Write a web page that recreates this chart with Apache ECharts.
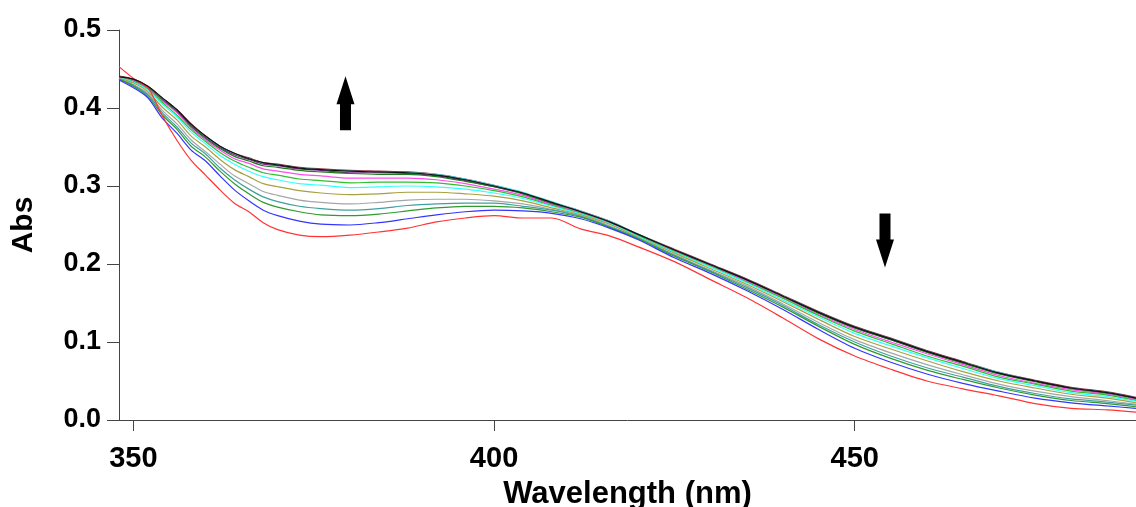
<!DOCTYPE html>
<html>
<head>
<meta charset="utf-8">
<script src="https://cdn.jsdelivr.net/npm/echarts@6/dist/echarts.min.js"></script>
<style>
  html, body { margin: 0; padding: 0; background: #fff; }
  #chart { width: 1136px; height: 507px; }
</style>
</head>
<body>
<div id="chart"></div>
<script>
// Sampled wavelengths (nm)
const wavelengths = [348,350,352,354,356,358,360,362,364,366,368,370,373,376,380,384,388,392,396,400,404,408,412,416,420,425,430,435,440,445,450,455,460,465,470,475,480,485,489];

// Absorbance spectra, one per titration step
const absRed = [0.453,0.438,0.426,0.390,0.359,0.333,0.314,0.295,0.278,0.267,0.253,0.244,0.237,0.235,0.237,0.241,0.246,0.254,0.259,0.262,0.259,0.259,0.245,0.236,0.222,0.203,0.180,0.157,0.131,0.104,0.082,0.065,0.050,0.040,0.031,0.021,0.015,0.013,0.010];
const absBlue = [0.436,0.426,0.413,0.387,0.368,0.346,0.332,0.313,0.295,0.281,0.269,0.262,0.255,0.251,0.250,0.253,0.258,0.263,0.267,0.269,0.268,0.265,0.258,0.246,0.231,0.208,0.188,0.166,0.142,0.116,0.092,0.074,0.059,0.047,0.037,0.028,0.022,0.018,0.015];
const absGreen = [0.437,0.428,0.415,0.391,0.373,0.351,0.337,0.319,0.303,0.290,0.279,0.273,0.267,0.263,0.262,0.264,0.268,0.272,0.274,0.274,0.272,0.267,0.260,0.247,0.232,0.210,0.190,0.168,0.145,0.120,0.097,0.079,0.064,0.052,0.041,0.032,0.025,0.021,0.017];
const absTeal = [0.437,0.429,0.417,0.394,0.376,0.355,0.341,0.323,0.308,0.296,0.286,0.280,0.274,0.271,0.269,0.271,0.275,0.277,0.278,0.278,0.274,0.269,0.261,0.248,0.233,0.211,0.191,0.170,0.147,0.122,0.100,0.082,0.067,0.055,0.043,0.034,0.027,0.023,0.019];
const absGray = [0.438,0.430,0.419,0.397,0.380,0.359,0.344,0.328,0.313,0.303,0.293,0.288,0.282,0.279,0.277,0.279,0.282,0.283,0.283,0.281,0.277,0.270,0.262,0.249,0.233,0.212,0.192,0.172,0.149,0.125,0.103,0.086,0.071,0.058,0.046,0.037,0.030,0.025,0.020];
const absOlive = [0.438,0.432,0.421,0.401,0.385,0.364,0.350,0.334,0.321,0.312,0.303,0.299,0.294,0.291,0.289,0.290,0.292,0.292,0.290,0.287,0.281,0.272,0.263,0.251,0.234,0.214,0.194,0.174,0.152,0.129,0.107,0.091,0.076,0.062,0.050,0.041,0.033,0.028,0.022];
const absCyan = [0.439,0.433,0.423,0.405,0.389,0.369,0.354,0.339,0.328,0.319,0.312,0.308,0.303,0.301,0.298,0.299,0.300,0.299,0.296,0.291,0.284,0.274,0.264,0.252,0.235,0.215,0.196,0.176,0.154,0.132,0.111,0.095,0.080,0.066,0.053,0.044,0.035,0.030,0.024];
const absLime = [0.439,0.434,0.424,0.407,0.391,0.372,0.357,0.343,0.332,0.324,0.317,0.314,0.309,0.307,0.304,0.305,0.305,0.304,0.300,0.294,0.286,0.275,0.265,0.252,0.236,0.216,0.197,0.177,0.156,0.134,0.114,0.098,0.082,0.069,0.055,0.046,0.037,0.032,0.025];
const absMagenta = [0.440,0.435,0.425,0.409,0.394,0.374,0.359,0.346,0.335,0.329,0.322,0.319,0.315,0.313,0.310,0.310,0.310,0.308,0.303,0.296,0.288,0.276,0.266,0.253,0.236,0.217,0.198,0.178,0.157,0.135,0.116,0.100,0.085,0.071,0.057,0.047,0.039,0.033,0.026];
const absDarkGreen = [0.439,0.435,0.425,0.410,0.395,0.376,0.361,0.348,0.338,0.332,0.326,0.324,0.320,0.318,0.316,0.315,0.315,0.312,0.306,0.299,0.290,0.277,0.266,0.253,0.236,0.217,0.198,0.179,0.158,0.137,0.118,0.103,0.087,0.073,0.059,0.049,0.040,0.034,0.027];
const absPurple = [0.440,0.436,0.426,0.411,0.396,0.377,0.362,0.349,0.340,0.334,0.328,0.326,0.322,0.320,0.317,0.317,0.316,0.313,0.307,0.299,0.290,0.278,0.267,0.254,0.237,0.218,0.199,0.180,0.158,0.137,0.118,0.103,0.087,0.073,0.060,0.050,0.041,0.034,0.028];
const absBlack = [0.440,0.437,0.428,0.413,0.398,0.379,0.364,0.351,0.342,0.335,0.330,0.327,0.323,0.321,0.319,0.318,0.317,0.314,0.308,0.300,0.291,0.279,0.267,0.254,0.238,0.218,0.199,0.180,0.159,0.138,0.119,0.104,0.088,0.074,0.060,0.050,0.041,0.035,0.028];
const absBrown = [0.441,0.437,0.428,0.413,0.398,0.380,0.364,0.351,0.342,0.336,0.330,0.328,0.324,0.322,0.320,0.319,0.318,0.315,0.309,0.301,0.291,0.279,0.268,0.255,0.238,0.219,0.200,0.181,0.160,0.139,0.120,0.105,0.089,0.075,0.061,0.051,0.042,0.036,0.029];
const absAqua = [0.439,0.436,0.427,0.412,0.397,0.378,0.363,0.350,0.341,0.335,0.329,0.327,0.323,0.321,0.319,0.318,0.317,0.315,0.309,0.301,0.292,0.280,0.268,0.255,0.238,0.218,0.199,0.180,0.159,0.138,0.119,0.104,0.088,0.074,0.061,0.050,0.041,0.035,0.028];

// Axis tick values
const xTicks = [350, 400, 450];
const yTicks = [0.0, 0.1, 0.2, 0.3, 0.4, 0.5];

// Trend arrows: [wavelength, absorbance, direction]
const arrows = [[379.4, 0.406, 'up'], [454.2, 0.230, 'down']];

const spectra = [
  { data: absBrown,     color: '#8b2f3a' },
  { data: absAqua,      color: '#3fe0e0' },
  { data: absPurple,    color: '#7a2c86' },
  { data: absDarkGreen, color: '#1f7a1f' },
  { data: absMagenta,   color: '#ff4df0' },
  { data: absLime,      color: '#2fbf2f' },
  { data: absCyan,      color: '#33ffff' },
  { data: absOlive,     color: '#a8a040' },
  { data: absGray,      color: '#a6a6a6' },
  { data: absTeal,      color: '#40a0a0' },
  { data: absGreen,     color: '#2f9a2f' },
  { data: absBlue,      color: '#3535ff' },
  { data: absRed,       color: '#ff3535' },
  { data: absBlack,     color: '#111111' }
];

const FONT = "'Liberation Sans', Arial, sans-serif";

const arrowPaths = {
  up: 'path://M9,0 L18,28 L14.5,28 L14.5,54 L3.5,54 L3.5,28 L0,28 Z',
  down: 'path://M3.5,0 L14.5,0 L14.5,26 L18,26 L9,54 L0,26 L3.5,26 Z'
};

const series = spectra.map(function (s, i) {
  const out = {
    type: 'line',
    data: wavelengths.map(function (w, k) { return [w, s.data[k]]; }),
    showSymbol: false,
    smooth: 0.3,
    lineStyle: { color: s.color, width: 1.2 },
    itemStyle: { color: s.color },
    z: 2 + i
  };
  if (i === spectra.length - 1) {
    out.markPoint = {
      silent: true,
      label: { show: false },
      itemStyle: { color: '#000' },
      data: arrows.map(function (a) {
        return { coord: [a[0], a[1]], symbol: arrowPaths[a[2]], symbolSize: [18, 54] };
      })
    };
  }
  return out;
});

const chart = echarts.init(document.getElementById('chart'), null, { renderer: 'canvas' });
chart.setOption({
  animation: false,
  backgroundColor: '#ffffff',
  grid: { left: 119, right: 0, top: 30, bottom: 87, containLabel: false, outerBoundsMode: 'none' },
  xAxis: {
    type: 'value',
    min: 348,
    max: 489,
    name: 'Wavelength (nm)',
    nameLocation: 'middle',
    nameGap: 59,
    nameTextStyle: { fontFamily: FONT, fontWeight: 'bold', fontSize: 31, color: '#000' },
    axisLine: { show: true, onZero: false, lineStyle: { color: '#444', width: 1 } },
    axisTick: { show: true, inside: false, length: 11, customValues: xTicks, lineStyle: { color: '#444', width: 1 } },
    axisLabel: { customValues: xTicks, margin: 24, fontFamily: FONT, fontWeight: 'bold', fontSize: 29, color: '#000' },
    splitLine: { show: false }
  },
  yAxis: {
    type: 'value',
    min: 0,
    max: 0.5,
    interval: 0.1,
    name: 'Abs',
    nameLocation: 'middle',
    nameRotate: 90,
    nameGap: 80,
    nameTextStyle: { fontFamily: FONT, fontWeight: 'bold', fontSize: 30, color: '#000' },
    axisLine: { show: true, onZero: false, lineStyle: { color: '#444', width: 1 } },
    axisTick: { show: true, inside: false, length: 12, customValues: yTicks, lineStyle: { color: '#444', width: 1 } },
    axisLabel: {
      customValues: yTicks,
      margin: 18,
      fontFamily: FONT, fontWeight: 'bold', fontSize: 27, color: '#000',
      formatter: function (v) { return v.toFixed(1); }
    },
    splitLine: { show: false }
  },
  series: series
});
</script>
</body>
</html>
